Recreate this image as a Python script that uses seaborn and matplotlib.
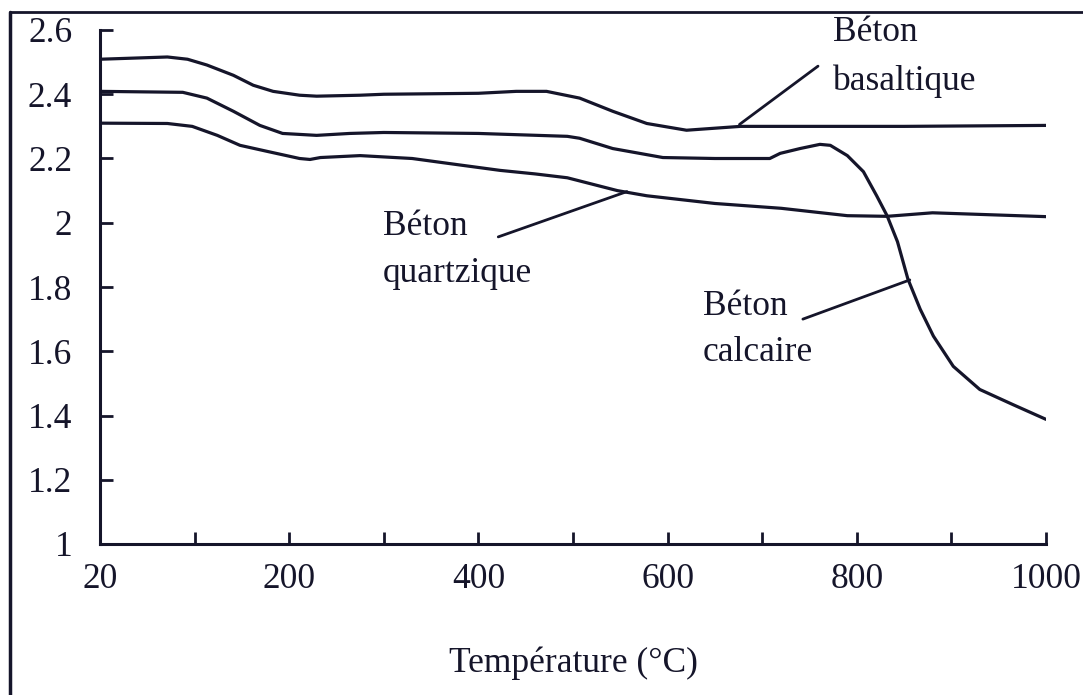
import numpy as np
import pandas as pd
import matplotlib
matplotlib.use("Agg")
import matplotlib.pyplot as plt
import seaborn as sns
from matplotlib.lines import Line2D

# Masse volumique (t/m3) en fonction de la température (°C)
temp_basalt = [20, 77, 94, 113, 141, 162, 183, 211, 229, 275, 300, 400, 440, 472,
               507, 542, 578, 620, 677, 740, 850, 1000]
rho_basalt = [2.509, 2.516, 2.509, 2.491, 2.459, 2.428, 2.409, 2.397, 2.394, 2.397,
              2.400, 2.403, 2.409, 2.409, 2.388, 2.347, 2.309, 2.288, 2.300, 2.300,
              2.300, 2.303]

temp_calc = [20, 90, 113, 141, 169, 193, 229, 264, 300, 400, 494, 507, 542, 595, 650,
             708, 719, 740, 761, 772, 790, 807, 821, 832, 843, 854, 867, 881, 902,
             930, 965, 1000]
rho_calc = [2.409, 2.406, 2.388, 2.347, 2.303, 2.278, 2.272, 2.278, 2.281, 2.278,
            2.269, 2.263, 2.231, 2.203, 2.200, 2.200, 2.216, 2.231, 2.244, 2.241,
            2.209, 2.159, 2.084, 2.022, 1.941, 1.825, 1.731, 1.647, 1.553, 1.481,
            1.434, 1.388]

temp_quartz = [20, 77, 98, 124, 148, 177, 211, 222, 233, 275, 330, 380, 423, 460, 494,
               547, 578, 650, 720, 790, 832, 880, 1000]
rho_quartz = [2.310, 2.309, 2.300, 2.272, 2.241, 2.222, 2.200, 2.197, 2.203, 2.209,
              2.200, 2.180, 2.163, 2.152, 2.140, 2.100, 2.084, 2.060, 2.045, 2.022,
              2.020, 2.031, 2.019]

x_ticks = [20, 100, 200, 300, 400, 500, 600, 700, 800, 900, 1000]
x_tick_labels = ["20", "", "200", "", "400", "", "600", "", "800", "", "1000"]
y_ticks = [1.0, 1.2, 1.4, 1.6, 1.8, 2.0, 2.2, 2.4, 2.6]
y_tick_labels = ["1", "1.2", "1.4", "1.6", "1.8", "2", "2.2", "2.4", "2.6"]

df = pd.concat([
    pd.DataFrame({"T": temp_basalt, "rho": rho_basalt, "beton": "basaltique"}),
    pd.DataFrame({"T": temp_calc, "rho": rho_calc, "beton": "calcaire"}),
    pd.DataFrame({"T": temp_quartz, "rho": rho_quartz, "beton": "quartzique"}),
], ignore_index=True)

sns.set_theme(style="white")
plt.rcParams["font.family"] = ["Liberation Serif", "DejaVu Serif"]
ink = "#15152a"
fs = 25.5

fig = plt.figure(figsize=(10.83, 6.95), dpi=100)
fig.patch.set_facecolor("white")
ax = fig.add_axes([100 / 1083, 1 - 544 / 695, 946 / 1083, 514 / 695])


# 20 -> 100 occupies the same width as each following 100 °C step
def fwd(t):
    t = np.asarray(t, dtype=float)
    return np.where(t < 100, (t - 20) / 80.0, t / 100.0)


def inv(p):
    p = np.asarray(p, dtype=float)
    return np.where(p < 1, 20 + 80.0 * p, 100.0 * p)


ax.set_xscale("function", functions=(fwd, inv))

sns.lineplot(data=df, x="T", y="rho", hue="beton",
             palette={"basaltique": ink, "calcaire": ink, "quartzique": ink},
             estimator=None, sort=False, legend=False, linewidth=2.3, ax=ax)

ax.set_xlim(20, 1000)
ax.set_ylim(1.0, 2.6)
ax.set_xticks(x_ticks)
ax.set_xticklabels(x_tick_labels)
ax.set_yticks(y_ticks)
ax.set_yticklabels(y_tick_labels)
ax.minorticks_off()

for side in ("top", "right"):
    ax.spines[side].set_visible(False)
for side in ("left", "bottom"):
    ax.spines[side].set_color(ink)
    ax.spines[side].set_linewidth(2.2)

ax.tick_params(axis="both", which="major", bottom=True, left=True,
               direction="in", length=9, width=2, color=ink,
               labelcolor=ink, labelsize=fs)
ax.tick_params(axis="y", pad=20)
ax.tick_params(axis="x", pad=14)

ax.set_xlabel("Température (°C)", fontsize=fs, color=ink)
ax.xaxis.set_label_coords(0.5, -0.20)
ax.set_ylabel("")

# Curve labels with leader lines
labels = [
    ("Béton", "basaltique", 775, 2.566, 2.4125, (676, 2.306), (759, 2.4875)),
    ("Béton", "quartzique", 299, 1.9625, 1.816, (421, 1.956), (557, 2.097)),
    ("Béton", "calcaire", 637, 1.7125, 1.569, (743, 1.700), (856, 1.822)),
]
for first, second, tx, y1, y2, p0, p1 in labels:
    ax.text(tx, y1, first, fontsize=fs, color=ink, ha="left", va="baseline")
    ax.text(tx, y2, second, fontsize=fs, color=ink, ha="left", va="baseline")
    ax.annotate("", xy=p1, xytext=p0,
                arrowprops=dict(arrowstyle="-", color=ink, lw=2,
                                shrinkA=0, shrinkB=0))

# Outer frame
fig.add_artist(Line2D([10 / 1083, 10 / 1083], [0, 1 - 12 / 695],
                      transform=fig.transFigure, color=ink, lw=2.5))
fig.add_artist(Line2D([10 / 1083, 1], [1 - 12 / 695, 1 - 12 / 695],
                      transform=fig.transFigure, color=ink, lw=2))

fig.savefig("out.png", dpi=100, facecolor="white")
